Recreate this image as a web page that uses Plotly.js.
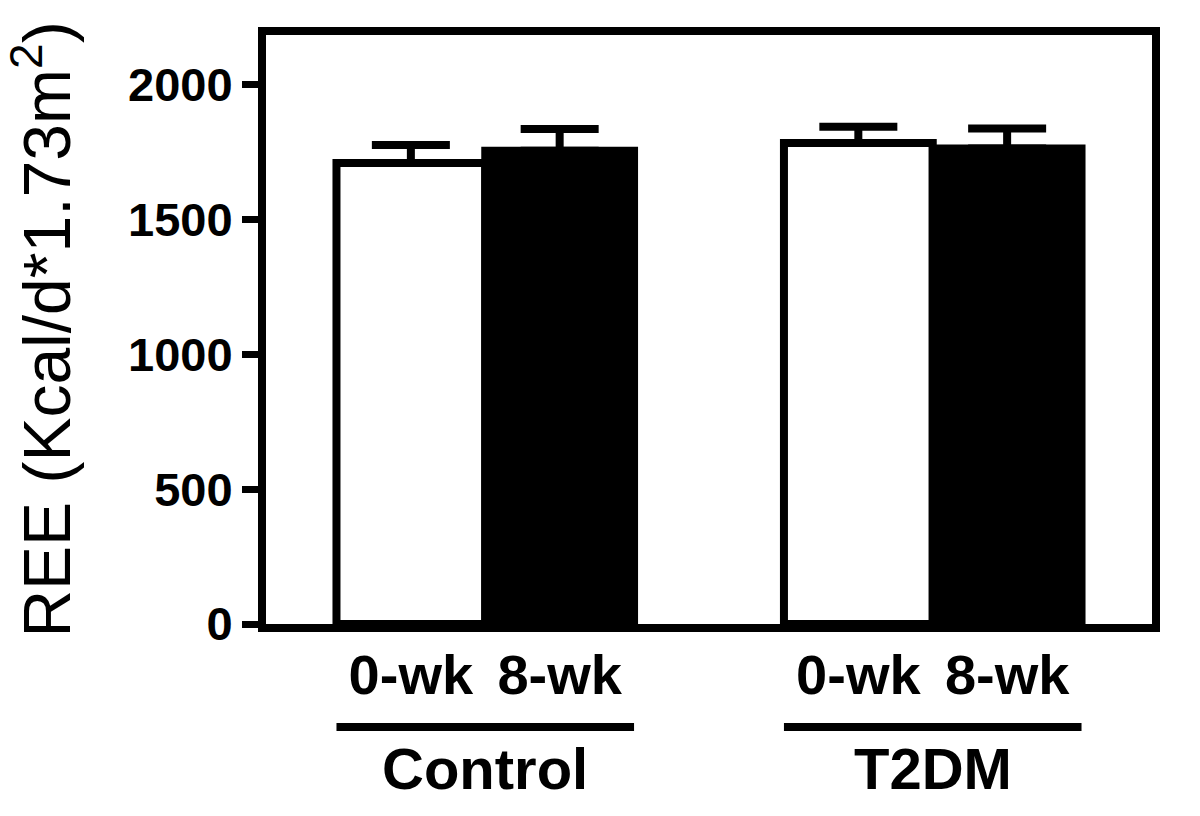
<!DOCTYPE html>
<html>
<head>
<meta charset="utf-8">
<script src="https://cdn.plot.ly/plotly-3.0.1.min.js"></script>
<style>html,body{margin:0;padding:0;background:#fff;}</style>
</head>
<body>
<div id="chart" style="width:1200px;height:816px;"></div>
<script>
// ---- data ----
const groups = ['Control', 'T2DM'];
const timepoints = ['0-wk', '8-wk'];
const ree0wk = [1710, 1784];
const ree8wk = [1756, 1764];
const sem0wk = [67, 61];
const sem8wk = [80, 74];
const yTicks = [0, 500, 1000, 1500, 2000];

// ---- layout helpers ----
const barW = 0.665;
const groupCenter = groups.map((g, i) => 1 + 2 * i);
const series = [
  {name: timepoints[0], y: ree0wk, err: sem0wk, fill: '#ffffff', off: -0.5},
  {name: timepoints[1], y: ree8wk, err: sem8wk, fill: '#000000', off: 0.5}
];
const font = 'Arial, "Liberation Sans", Helvetica, sans-serif';

const traces = series.map(s => ({
  type: 'bar',
  name: s.name,
  x: groupCenter.map(c => c + s.off * barW),
  y: s.y,
  width: groupCenter.map(() => barW),
  marker: {color: s.fill, line: {color: '#000', width: 8}},
  error_y: {type: 'data', symmetric: false, array: s.err, arrayminus: s.err.map(() => 0),
            color: '#000', thickness: 8, width: 39},
  showlegend: false,
  hoverinfo: 'x+y'
}));

const tickvals = [], ticktext = [];
groupCenter.forEach(c => series.forEach(s => { tickvals.push(c + s.off * barW); ticktext.push(s.name); }));

const shapes = groupCenter.map(c => ({
  type: 'line', xref: 'x', yref: 'paper',
  x0: c - barW, x1: c + barW, y0: -0.175, y1: -0.175,
  line: {color: '#000', width: 8}
}));
const annotations = groups.map((g, i) => ({
  text: g, xref: 'x', yref: 'paper', x: groupCenter[i], y: -0.245,
  xanchor: 'center', yanchor: 'middle', showarrow: false,
  font: {family: font, size: 58, color: '#000', weight: 'bold'}
}));

const layout = {
  width: 1200, height: 816,
  margin: {l: 266, r: 48, t: 35, b: 192, pad: 0},
  paper_bgcolor: '#fff', plot_bgcolor: '#fff',
  barmode: 'overlay',
  font: {family: font, color: '#000'},
  xaxis: {
    range: [0.02, 3.98], tickvals: tickvals, ticktext: ticktext, ticks: '',
    showline: true, linewidth: 8, linecolor: '#000', mirror: true,
    showgrid: false, zeroline: false, ticklabelstandoff: -5,
    tickfont: {family: font, size: 56, color: '#000', weight: 'bold'}
  },
  yaxis: {
    range: [0, 2185], tickvals: yTicks, ticks: 'outside', ticklen: 16, tickwidth: 7, tickcolor: '#000',
    showline: true, linewidth: 8, linecolor: '#000', mirror: true,
    showgrid: false, zeroline: false,
    tickfont: {family: font, size: 47, color: '#000', weight: 'bold'},
    title: {text: 'REE (Kcal/d*1.73m<sup>2</sup>)', standoff: 40,
            font: {family: font, size: 66, color: '#000'}}
  },
  shapes: shapes,
  annotations: annotations
};

Plotly.newPlot('chart', traces, layout, {displayModeBar: false, staticPlot: true});
</script>
</body>
</html>
